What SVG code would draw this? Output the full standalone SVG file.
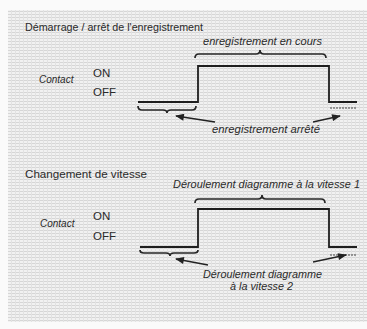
<svg xmlns="http://www.w3.org/2000/svg" width="367" height="329" viewBox="0 0 367 329">
<defs>
<pattern id="grid" x="0" y="0" width="4" height="3" patternUnits="userSpaceOnUse">
<rect width="4" height="3" fill="#f1f1f1"/>
<rect y="2" width="4" height="1" fill="#d6d6d6"/>
<rect x="3" width="1" height="3" fill="#e2e2e2"/>
</pattern>
<marker id="ah" viewBox="0 0 10 8" refX="9" refY="4" markerWidth="10" markerHeight="7" orient="auto" markerUnits="userSpaceOnUse">
<path d="M0,0 L10,4 L0,8 Z" fill="#222"/>
</marker>
<style>
.t{font-family:"Liberation Sans",Arial,sans-serif;fill:#2a2a2a}
.h{font-size:11px}
.i{font-size:10px;font-style:italic}
.s{font-size:11.5px}
.w{fill:none;stroke:#1e1e1e;stroke-width:1.8}
.b{fill:none;stroke:#262626;stroke-width:1.7}
.a{fill:none;stroke:#222;stroke-width:1.3}
.d{fill:none;stroke:#444;stroke-width:1;stroke-dasharray:2 1}
</style>
</defs>
<rect width="367" height="329" fill="#fafafa"/>
<rect x="8" y="10" width="359" height="312" fill="url(#grid)"/>

<g id="section1">
<text class="t h" x="25" y="31" textLength="178" lengthAdjust="spacingAndGlyphs">Démarrage / arrêt de l'enregistrement</text>
<text class="t i" x="203" y="45" textLength="119" lengthAdjust="spacingAndGlyphs">enregistrement en cours</text>
<text class="t i" x="39" y="83">Contact</text>
<text class="t s" x="93" y="77">ON</text>
<text class="t s" x="93" y="96">OFF</text>
<path class="w" d="M138,102 H198 V66 H329 V102 H357"/>
<path class="b" d="M195,58 Q195,54 199,54 H256 Q260,54 260,50 Q260,54 264,54 H322 Q326,54 326,58"/>
<path class="b" d="M138,106 Q138,110 142,110 H163 Q167,110 167,113 Q167,110 171,110 H192 Q196,110 196,106"/>
<path class="d" d="M330,108 H357"/>
<text class="t i" x="212" y="133" textLength="108" lengthAdjust="spacingAndGlyphs">enregistrement arrêté</text>
</g>

<g id="section2">
<text class="t h" x="25" y="178" textLength="122" lengthAdjust="spacingAndGlyphs">Changement de vitesse</text>
<text class="t i" x="173" y="188" textLength="187" lengthAdjust="spacingAndGlyphs">Déroulement diagramme à la vitesse 1</text>
<text class="t i" x="40" y="227">Contact</text>
<text class="t s" x="93" y="220">ON</text>
<text class="t s" x="93" y="240">OFF</text>
<path class="w" d="M140,247 H198 V209 H329 V247 H357"/>
<path class="b" d="M195,203 Q195,199 199,199 H258 Q262,199 262,195 Q262,199 266,199 H321 Q325,199 325,203"/>
<path class="b" d="M140,250 Q140,253 144,253 H166 Q170,253 170,256 Q170,253 174,253 H194 Q198,253 198,250"/>
<path class="d" d="M330,255 H357"/>
<text class="t i" x="203" y="278" textLength="119" lengthAdjust="spacingAndGlyphs">Déroulement diagramme</text>
<text class="t i" x="230" y="290" textLength="63" lengthAdjust="spacingAndGlyphs">à la vitesse 2</text>
</g>

<g id="connectors">
<path class="a" d="M215,122 L176,116" marker-end="url(#ah)"/>
<path class="a" d="M313,122 L340,116" marker-end="url(#ah)"/>
<path class="a" d="M208,265 L176,259" marker-end="url(#ah)"/>
<path class="a" d="M313,262 L346,255" marker-end="url(#ah)"/>
</g>
</svg>
